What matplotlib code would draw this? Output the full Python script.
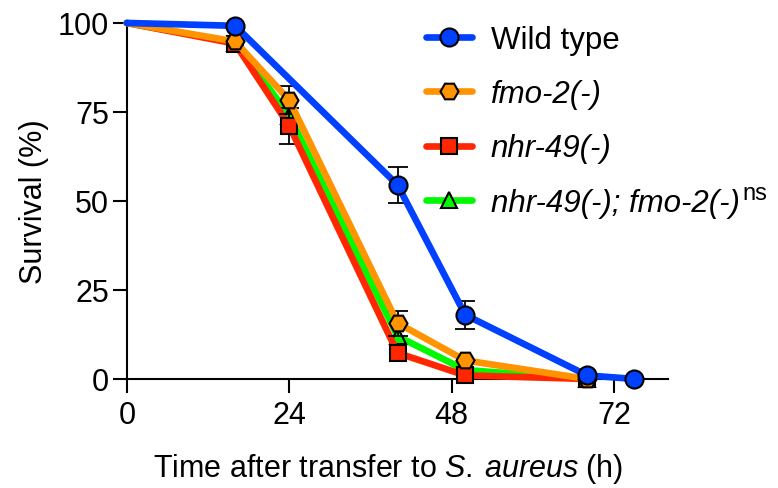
import matplotlib
matplotlib.use("Agg")
import matplotlib.pyplot as plt
from matplotlib.lines import Line2D
import numpy as np

plt.rcParams['font.family'] = ['Liberation Sans', 'DejaVu Sans']
plt.rcParams['mathtext.fontset'] = 'custom'
plt.rcParams['mathtext.rm'] = 'Liberation Sans'
plt.rcParams['mathtext.it'] = 'Liberation Sans:italic'

# Data
wt_x = [0, 16, 40, 50, 68, 75]
wt_y = [100, 99.2, 54.5, 18, 1, 0]
wt_e = [0, 0, 5, 4, 0, 0]

fmo_x = [0, 16, 24, 40, 50, 68]
fmo_y = [100, 94.8, 78.3, 15.7, 5.2, 0]
fmo_e = [0, 0, 4, 3.5, 0, 0]

nhr_x = [0, 16, 24, 40, 50, 68]
nhr_y = [100, 94.2, 71.1, 7.3, 1, 0]
nhr_e = [0, 0, 5, 0, 0, 0]

dbl_x = [0, 16, 24, 40, 50, 68]
dbl_y = [100, 94.5, 74, 12, 2.5, 0]
dbl_e = [0, 0, 0, 0, 0, 0]

labels = ['Wild type', 'fmo-2(-)', 'nhr-49(-)', 'nhr-49(-); fmo-2(-)']
sig_label = 'ns'
x_ticks = [0, 24, 48, 72]
y_ticks = [0, 25, 50, 75, 100]

c_blue = '#0040FF'
c_orange = '#FF9300'
c_red = '#FF2600'
c_green = '#00F900'

fig = plt.figure(figsize=(7.78, 4.89), dpi=100)
ax = fig.add_axes([0.163, 0.223, 0.696, 0.728])

lw = 4.8
mew = 1.5
series = [
    (dbl_x, dbl_y, dbl_e, c_green, '^', labels[3], 2, 12),
    (nhr_x, nhr_y, nhr_e, c_red, 's', labels[2], 3, 11.5),
    (fmo_x, fmo_y, fmo_e, c_orange, 'H', labels[1], 4, 13),
    (wt_x, wt_y, wt_e, c_blue, 'o', labels[0], 5, 13),
]
proxies = {}
for x, y, e, c, m, lab, z, msz in series:
    e = np.array(e, dtype=float)
    mask = e > 0
    if mask.any():
        ax.errorbar(np.array(x)[mask], np.array(y)[mask], yerr=e[mask], fmt='none',
                    ecolor='black', elinewidth=1.3, capsize=7, capthick=1.3,
                    zorder=z + 0.1, clip_on=False)
    ax.plot(x, y, color=c, lw=lw, marker=m, markersize=msz,
            markeredgecolor='black', markeredgewidth=mew,
            markevery=list(range(1, len(x))),
            solid_capstyle='round', zorder=z + 0.2, clip_on=False)
    proxies[lab] = Line2D([], [], color=c, lw=lw, marker=m, markersize=msz,
                          markeredgecolor='black', markeredgewidth=mew,
                          solid_capstyle='round')

ax.set_xlim(0, 80)
ax.set_ylim(0, 100)
ax.set_xticks(x_ticks)
ax.set_yticks(y_ticks)
ax.spines['top'].set_visible(False)
ax.spines['right'].set_visible(False)
for s in ['left', 'bottom']:
    ax.spines[s].set_linewidth(1.5)
ax.tick_params(axis='both', direction='out', length=10, width=1.5,
               labelsize=22)
ax.tick_params(axis='x', pad=5)
ax.tick_params(axis='y', pad=3)
xl = ax.set_xlabel('Time after transfer to $\\mathit{S.\\:aureus}$ (h)', fontsize=22)
xl.set_va('baseline')
ax.xaxis.set_label_coords(0.4825, -0.272)
ax.set_ylabel('Survival (%)', fontsize=22, labelpad=6)

fs_leg = 22.5
leg = ax.legend([proxies[l] for l in labels], labels, loc='upper left',
                bbox_to_anchor=(0.553, 0.995),
                frameon=False, fontsize=fs_leg, handlelength=1.45, handletextpad=0.62,
                labelspacing=0.78, borderpad=0, borderaxespad=0, numpoints=1)
for i, t in enumerate(leg.get_texts()):
    if i > 0:
        t.set_style('italic')

fig.canvas.draw()
last = leg.get_texts()[-1]
bb = last.get_window_extent()
fs_px = fs_leg * 100 / 72
baseline = bb.y0 + 0.212 * fs_px
fig.text(bb.x1 + 3, baseline + 12, sig_label, fontsize=17, ha='left', va='baseline',
         transform=None)

fig.savefig('out.png', dpi=100)
